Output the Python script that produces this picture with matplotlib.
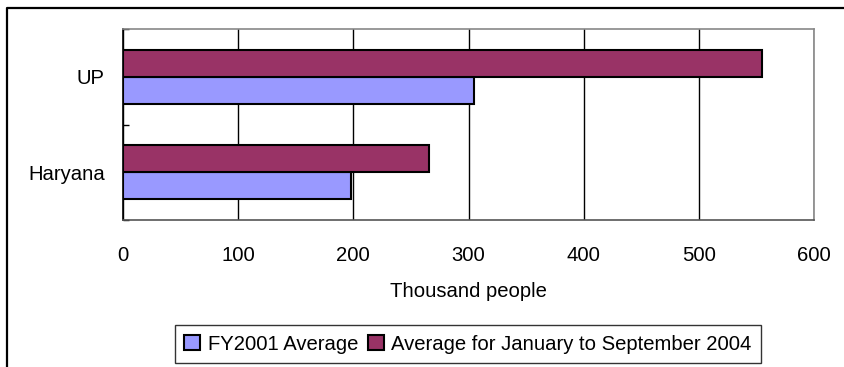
import numpy as np
import matplotlib.pyplot as plt
from matplotlib.lines import Line2D

# data (thousand people)
states = ["Haryana", "UP"]
fy2001_avg = [198, 305]
avg_2004 = [266, 555]
series_names = ["FY2001 Average", "Average for January to September 2004"]
x_ticks = [0, 100, 200, 300, 400, 500, 600]

plt.rcParams['font.family'] = ['Liberation Sans', 'DejaVu Sans']
plt.rcParams['font.size'] = 14.6

fig = plt.figure(figsize=(8.44, 3.67), dpi=100)
ax = fig.add_axes([123 / 844, 1 - 220 / 367, 691 / 844, 191 / 367])

y = np.arange(len(states))
h = 0.285
ax.barh(y - h / 2, fy2001_avg, height=h, color="#9999FF",
        edgecolor="black", linewidth=1.5, label=series_names[0], zorder=3)
ax.barh(y + h / 2, avg_2004, height=h, color="#993366",
        edgecolor="black", linewidth=1.5, label=series_names[1], zorder=3)

ax.set_xlim(0, 600)
ax.set_ylim(-0.5, 1.5)
ax.set_xticks(x_ticks)
ax.xaxis.grid(True, color="black", linewidth=1, zorder=0)
ax.tick_params(axis="x", length=0, pad=19)
ax.set_yticks(y)
ax.set_yticklabels(states)
ax.tick_params(axis="y", which="major", length=0, pad=13)
ax.set_yticks([-0.5, 0.5, 1.5], minor=True)
ax.tick_params(axis="y", which="minor", direction="in", length=4, width=1)
ax.set_xlabel("Thousand people", labelpad=12)

for side in ["top", "right"]:
    ax.spines[side].set_color("#888888")
    ax.spines[side].set_linewidth(1.2)
ax.spines["left"].set_color("black")
ax.spines["left"].set_linewidth(1.2)
ax.spines["bottom"].set_color("#555555")
ax.spines["bottom"].set_linewidth(1.2)

leg = fig.legend(loc="center", bbox_to_anchor=(468 / 844, 1 - 344 / 367),
                 ncol=2, frameon=True, fancybox=False, shadow=False,
                 handlelength=0.8, handleheight=0.8, handletextpad=0.35,
                 columnspacing=0.5, borderpad=0.45, borderaxespad=0)
leg.get_frame().set_edgecolor("black")
leg.get_frame().set_linewidth(1)

# outer chart frame (left and top edges visible)
fig.add_artist(Line2D([7 / 844, 7 / 844, 1], [0, 1 - 8 / 367, 1 - 8 / 367],
                      transform=fig.transFigure, color="black", linewidth=1.6))

fig.savefig("out.png", dpi=100)
